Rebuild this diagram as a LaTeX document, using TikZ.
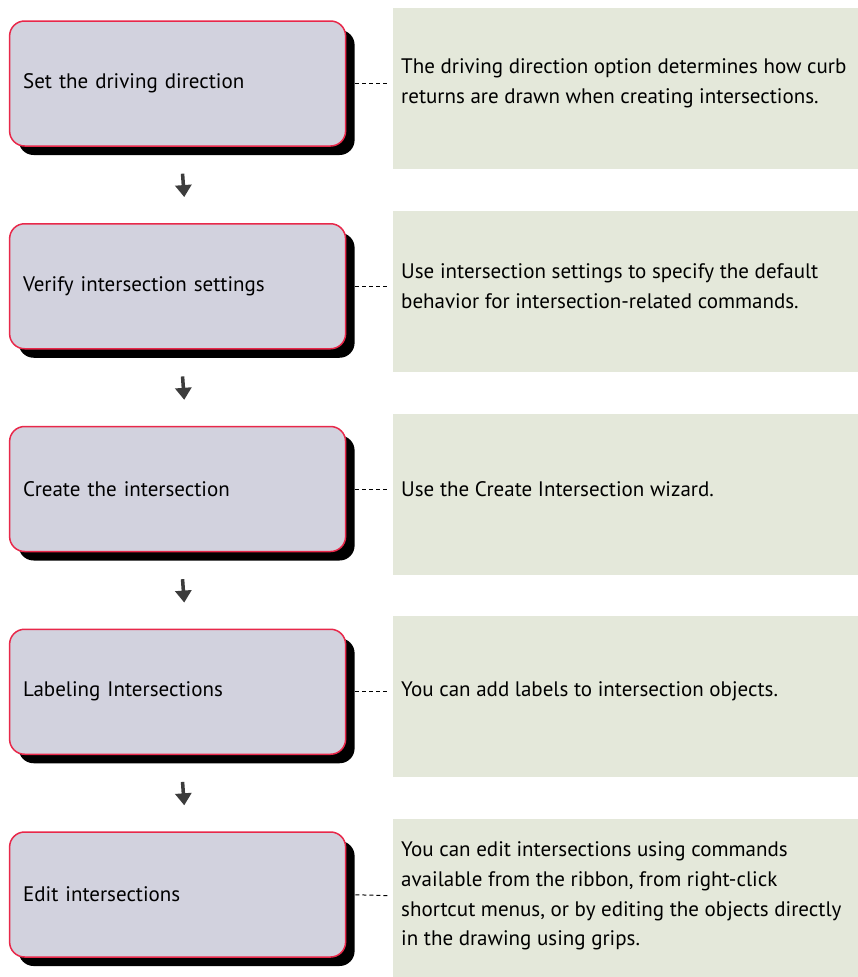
\documentclass[tikz,border=0pt]{standalone}
\usepackage{fontspec}
\setmainfont{PT Sans}
\usetikzlibrary{arrows.meta,shadows}
\definecolor{boxfill}{HTML}{D2D2DE}
\definecolor{boxedge}{HTML}{E8284A}
\definecolor{notefill}{HTML}{E4E8DA}
\definecolor{arrowgray}{HTML}{3C3C3C}
\tikzset{
  txt/.style={font=\fontsize{21}{29.6}\selectfont},
  stepbox/.style={txt, draw=boxedge, line width=1.5pt, fill=boxfill, rounded corners=15pt,
    minimum width=336pt, minimum height=125pt, text width=309pt, inner xsep=13.5pt, align=left,
    drop shadow={shadow xshift=9pt, shadow yshift=-9pt, opacity=1, fill=black}},
  notebox/.style={fill=notefill, minimum width=465pt, minimum height=161pt, inner sep=0pt, anchor=north west},
  notetext/.style={txt, anchor=west, inner sep=0pt, align=left},
  link/.style={dash pattern=on 4pt off 3pt, line width=1pt},
  flow/.style={arrowgray, line width=3.5pt, -{Triangle[width=16pt,length=12pt]}}
}
\begin{document}
\begin{tikzpicture}[x=1pt,y=-1pt]
\useasboundingbox (0,0) rectangle (858,977);
\fill[white] (0,0) rectangle (858,977);

% note backgrounds
\node[notebox] (g1) at (393,8) {};
\node[notebox] (g2) at (393,210.75) {};
\node[notebox] (g3) at (393,413.5) {};
\node[notebox] (g4) at (393,616.25) {};
\node[notebox, minimum height=158pt] (g5) at (393,819) {};

% steps
\node[stepbox] (s1) at (177.6,83.5) {Set the driving direction};
\node[stepbox] (s2) at (177.6,286.25) {Verify intersection settings};
\node[stepbox] (s3) at (177.6,489) {Create the intersection};
\node[stepbox] (s4) at (177.6,691.75) {Labeling Intersections};
\node[stepbox] (s5) at (177.6,894.5) {Edit intersections};

% note texts
\node[notetext] (t1) at (401,83.5) {The driving direction option determines how curb\\returns are drawn when creating intersections.};
\node[notetext] (t2) at (401,286.25) {Use intersection settings to specify the default\\behavior for intersection-related commands.};
\node[notetext] (t3) at (401,489) {Use the Create Intersection wizard.};
\node[notetext] (t4) at (401,691.75) {You can add labels to intersection objects.};
\node[notetext] (t5) at (401,896) {You can edit intersections using commands\\available from the ribbon, from right-click\\shortcut menus, or by editing the objects directly\\in the drawing using grips.};

% dashed links
\foreach \i in {1,...,5}{
  \draw[link, shorten <=9pt, shorten >=11pt] (s\i.east) -- (t\i.west);
}

% flow arrows
\foreach \i/\j in {1/2,2/3,3/4,4/5}{
  \draw[flow, shorten <=27pt, shorten >=26pt] ([xshift=3pt]s\i.south) -- ([xshift=8.5pt]s\j.north);
}
\end{tikzpicture}
\end{document}
